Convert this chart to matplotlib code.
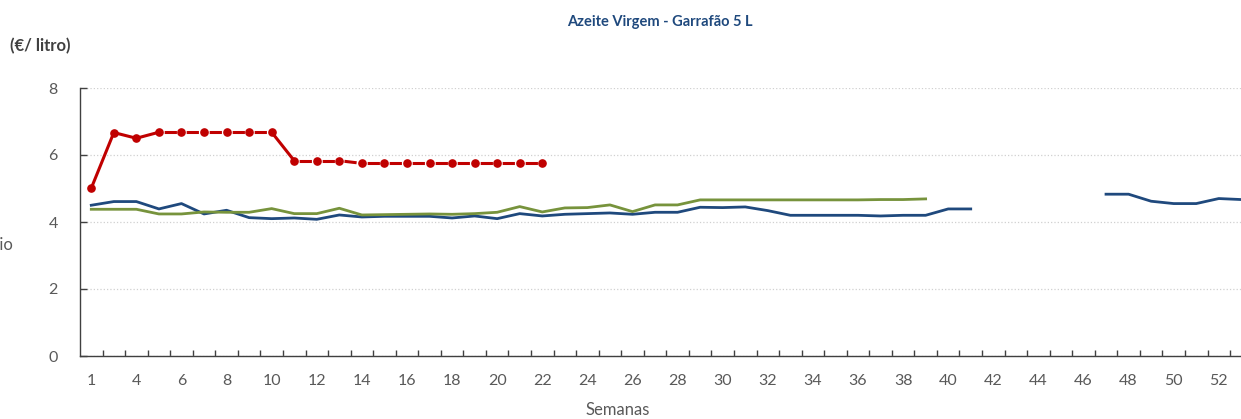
import matplotlib
matplotlib.use("Agg")
import matplotlib.pyplot as plt
import numpy as np

plt.rcParams['font.family'] = ['Lato', 'DejaVu Sans']

# semanas do eixo (a semana 2 não aparece)
semanas = [1] + list(range(3, 54))

# preço médio (€/litro) por série
serie_azul = [4.50, 4.61, 4.61, 4.39, 4.55, 4.24, 4.35, 4.13, 4.10, 4.12,
              4.08, 4.21, 4.15, 4.17, 4.17, 4.17, 4.12, 4.18, 4.10, 4.25,
              4.18, 4.23, 4.25, 4.27, 4.23, 4.29, 4.29, 4.44, 4.43, 4.45,
              4.34, 4.20, 4.20, 4.20, 4.20, 4.18, 4.20, 4.20, 4.39, 4.39,
              None, None, None, None, None,
              4.83, 4.83, 4.62, 4.55, 4.55, 4.70, 4.67]
serie_verde = [4.38, 4.38, 4.38, 4.24, 4.24, 4.30, 4.29, 4.29, 4.40, 4.25,
               4.25, 4.41, 4.21, 4.22, 4.23, 4.24, 4.23, 4.25, 4.29, 4.46,
               4.30, 4.42, 4.43, 4.51, 4.31, 4.51, 4.51, 4.66, 4.66, 4.66,
               4.66, 4.66, 4.66, 4.66, 4.66, 4.67, 4.67, 4.69]
serie_vermelha = [5.01, 6.67, 6.50, 6.68, 6.68, 6.68, 6.68, 6.68, 6.68, 5.83,
                  5.83, 5.83, 5.75, 5.75, 5.75, 5.75, 5.75, 5.75, 5.75, 5.75,
                  5.75]

W, H = 1241, 419
fig = plt.figure(figsize=(W / 100, H / 100), dpi=100)
step = 22.55
ax = fig.add_axes([80 / W, 63 / H, 52 * step / W, 268 / H])

x = np.arange(len(semanas))
azul = np.array([np.nan if v is None else v for v in serie_azul], dtype=float)

ax.plot(x, azul, color='#1F497D', lw=2.0, zorder=3)
ax.plot(x[:len(serie_verde)], serie_verde, color='#77933C', lw=2.0, zorder=3)

# linha vermelha: traço contínuo nas subidas/descidas, tracejado no resto
vermelho = '#C00000'
for i in range(len(serie_vermelha) - 1):
    y0, y1 = serie_vermelha[i], serie_vermelha[i + 1]
    if abs(y1 - y0) > 0.1:
        ls = '-'
    else:
        ls = (5.6, (4.0, 3.3))
    ax.plot([x[i], x[i + 1]], [y0, y1], color=vermelho, lw=2.2, linestyle=ls,
            dash_capstyle='butt', zorder=4)
ax.plot(x[:len(serie_vermelha)], serie_vermelha, linestyle='none', marker='o',
        markersize=5.2, color=vermelho, zorder=5)

ax.set_xlim(-0.5, len(semanas) - 0.5)
ax.set_ylim(0, 8)
ax.set_yticks([0, 2, 4, 6, 8])
ax.yaxis.grid(True, color='#D0D0D0', linestyle=':', linewidth=0.9)
ax.set_axisbelow(True)

ax.set_xticks(x[::2])
ax.set_xticklabels([str(s) for s in semanas[::2]])
ax.set_xticks(np.arange(len(semanas)) + 0.5, minor=True)
ax.tick_params(axis='x', which='major', length=0, pad=13, labelsize=11.5, labelcolor='#595959')
ax.tick_params(axis='x', which='minor', direction='in', length=4, width=1, color='#404040')
ax.tick_params(axis='y', direction='in', length=5, width=1, color='#404040',
               pad=16, labelsize=11.5, labelcolor='#595959')

for side in ['top', 'right']:
    ax.spines[side].set_visible(False)
for side in ['left', 'bottom']:
    ax.spines[side].set_color('#404040')
    ax.spines[side].set_linewidth(1.0)

fig.text(660 / W, 1 - 22 / H, 'Azeite Virgem - Garrafão 5 L', ha='center', va='center',
         fontsize=10.5, fontweight='bold', color='#1F497D')
fig.text(10 / W, 1 - 46 / H, '(€/ litro)', ha='left', va='center',
         fontsize=12, fontweight='bold', color='#404040')
fig.text(618 / W, 1 - 410 / H, 'Semanas', ha='center', va='center',
         fontsize=12, color='#595959')
fig.text(13 / W, 1 - 245 / H, 'Preço médio', ha='right', va='center',
         fontsize=12, color='#595959')

fig.savefig('out.png', dpi=100)
